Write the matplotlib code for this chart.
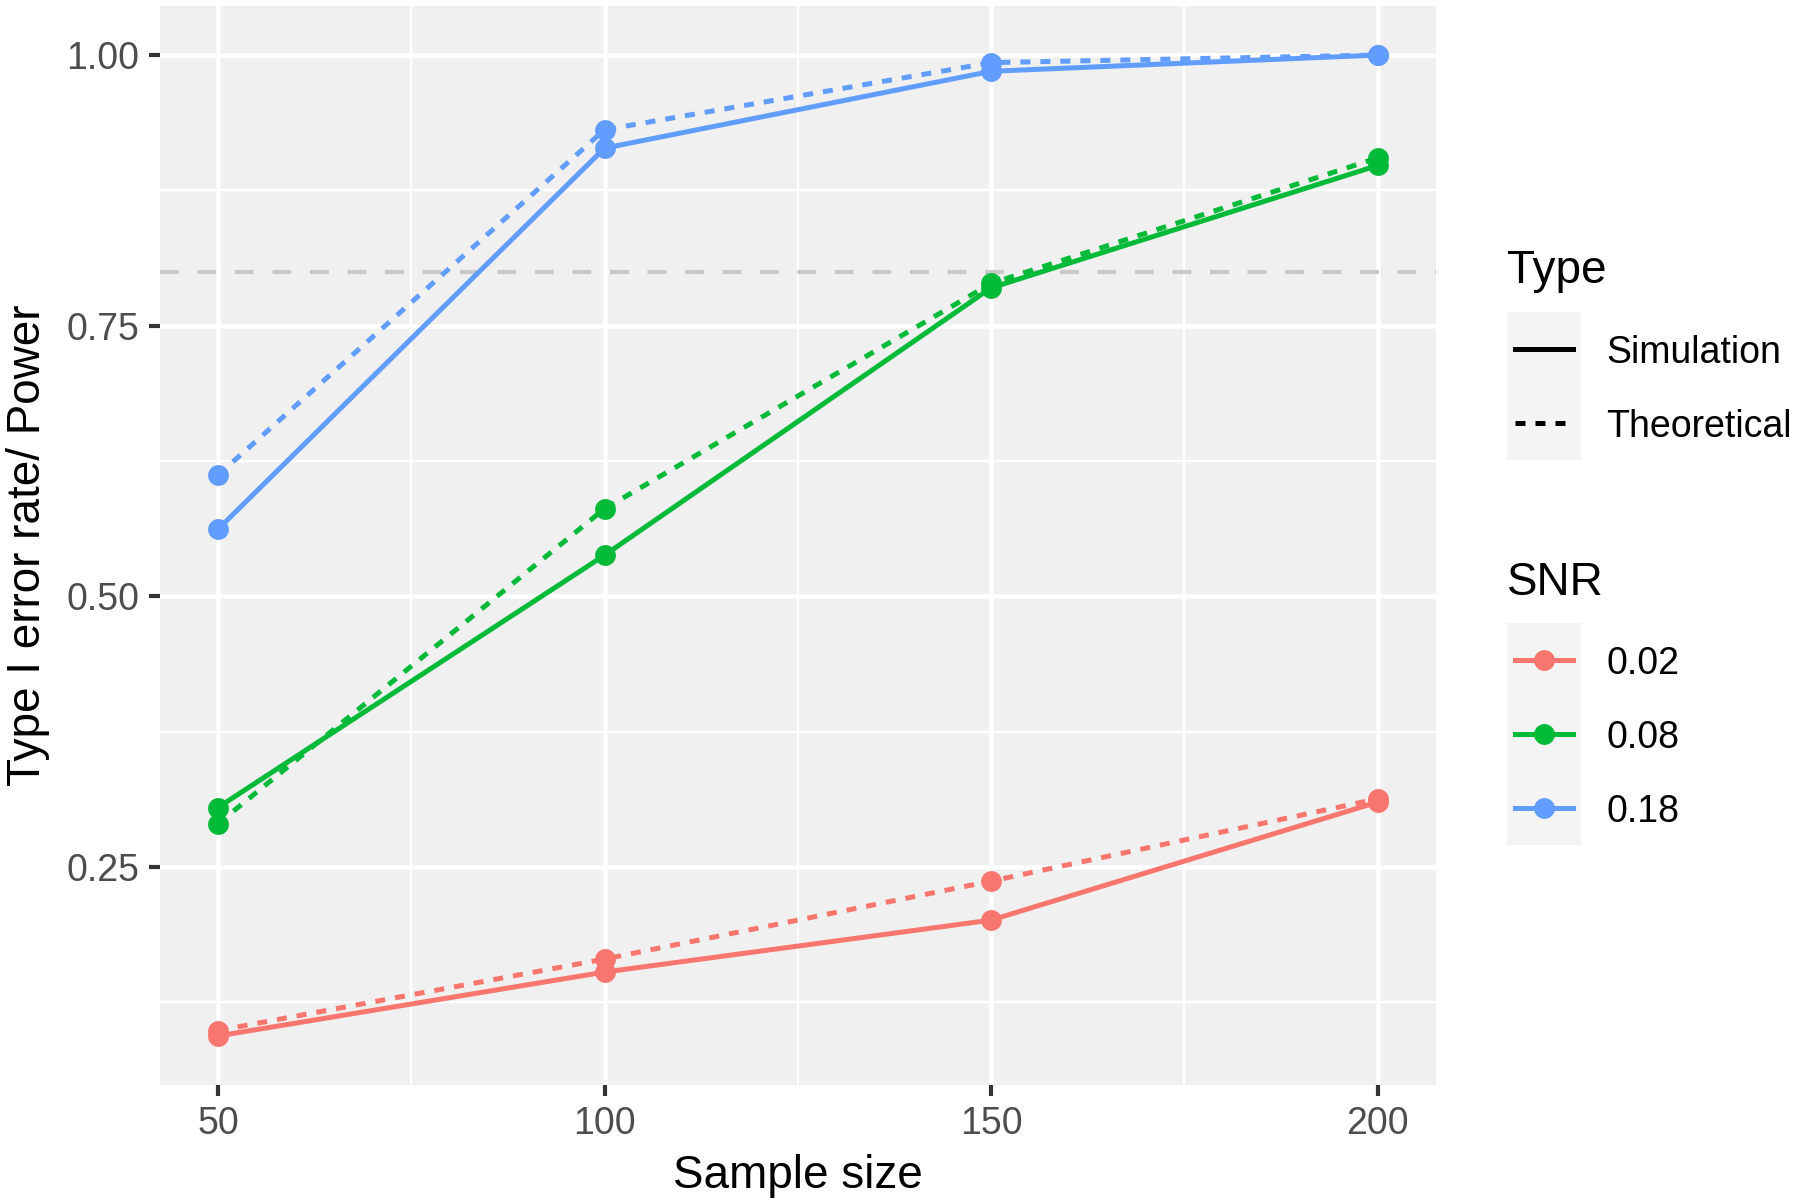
import matplotlib
matplotlib.use("Agg")
import matplotlib.pyplot as plt
from matplotlib.patches import Rectangle
from matplotlib.lines import Line2D

plt.rcParams['font.family'] = ['Liberation Sans', 'DejaVu Sans']

# ---- data ----
sample_size = [50, 100, 150, 200]
snr_levels = ["0.02", "0.08", "0.18"]
types = ["Simulation", "Theoretical"]
sim_002 = [0.094, 0.153, 0.201, 0.310]
theo_002 = [0.099, 0.165, 0.237, 0.313]
sim_008 = [0.305, 0.538, 0.785, 0.898]
theo_008 = [0.290, 0.581, 0.789, 0.905]
sim_018 = [0.562, 0.914, 0.985, 1.000]
theo_018 = [0.612, 0.931, 0.993, 1.000]
ref_power = 0.8
x_ticks = [50, 100, 150, 200]
y_ticks = [0.25, 0.50, 0.75, 1.00]
y_tick_labels = ["0.25", "0.50", "0.75", "1.00"]
x_label = "Sample size"
y_label = "Type I error rate/ Power"

colors = ["#F8766D", "#00BA38", "#619CFF"]
sim_series = [sim_002, sim_008, sim_018]
theo_series = [theo_002, theo_008, theo_018]

W, H, DPI = 1800, 1204, 300
fig = plt.figure(figsize=(W / DPI, H / DPI), dpi=DPI)
fig.patch.set_facecolor("white")

left, right, bottom, top = 160 / W, 1435.6 / W, (H - 1085) / H, (H - 6) / H
ax = fig.add_axes([left, bottom, right - left, top - bottom])
ax.set_facecolor("#F0F0F0")
for s in ax.spines.values():
    s.set_visible(False)

# ggplot-style expansion
xmin, xmax = min(sample_size), max(sample_size)
xr = xmax - xmin
ax.set_xlim(xmin - 0.05 * xr, xmax + 0.05 * xr)
allv = sim_002 + theo_002 + sim_008 + theo_008 + sim_018 + theo_018
ymin, ymax = min(allv), max(allv)
yr = ymax - ymin
ax.set_ylim(ymin - 0.05 * yr, ymax + 0.05 * yr)

ax.set_xticks(x_ticks)
ax.set_xticklabels([str(v) for v in x_ticks])
ax.set_yticks(y_ticks)
ax.set_yticklabels(y_tick_labels)
ax.set_xticks([75, 125, 175], minor=True)
ax.set_yticks([0.125, 0.375, 0.625, 0.875], minor=True)
ax.grid(which="major", color="white", linewidth=1.1)
ax.grid(which="minor", color="white", linewidth=0.55)
ax.set_axisbelow(True)
ax.tick_params(which="major", length=2.75, width=1.0, color="#333333",
               labelcolor="#4D4D4D", labelsize=9, pad=2.2)
ax.tick_params(which="minor", length=0)

ax.set_xlabel(x_label, fontsize=11, color="black", labelpad=3)
ax.set_ylabel(y_label, fontsize=11, color="black", labelpad=4)

ax.axhline(ref_power, color="#C8C8C8", linewidth=1.0, linestyle=(0, (4.5, 4.5)), zorder=1.5)

lw = 1.2
ms = 5
for c, sim, theo in zip(colors, sim_series, theo_series):
    ax.plot(sample_size, sim, color=c, linewidth=lw, solid_capstyle="butt", zorder=3)
    ax.plot(sample_size, theo, color=c, linewidth=lw, linestyle=(0, (2, 2)), zorder=3)
    ax.plot(sample_size, sim, linestyle="none", marker="o", markersize=ms,
            markerfacecolor=c, markeredgecolor=c, markeredgewidth=0, zorder=4)
    ax.plot(sample_size, theo, linestyle="none", marker="o", markersize=ms,
            markerfacecolor=c, markeredgecolor=c, markeredgewidth=0, zorder=4)

# ---- legends (drawn in figure pixel space) ----
lax = fig.add_axes([0, 0, 1, 1])
lax.set_xlim(0, W)
lax.set_ylim(H, 0)
lax.axis("off")

key_x0, key_w, key_h = 1507, 74, 74
txt_x = 1606

# Type legend
lax.text(key_x0, 271, "Type", fontsize=11, va="center", ha="left", color="black")
type_y0 = 312
for i, (t, ls) in enumerate(zip(types, ["-", (0, (2, 2))])):
    y0 = type_y0 + i * key_h
    lax.add_patch(Rectangle((key_x0, y0), key_w, key_h, facecolor="#F4F4F4", edgecolor="none"))
    lax.add_line(Line2D([key_x0 + 8, key_x0 + key_w - 8], [y0 + key_h / 2] * 2,
                        color="black", linewidth=1.2, linestyle=ls))
    lax.text(txt_x, y0 + key_h / 2 + 4, t, fontsize=9, va="center", ha="left", color="black")

# SNR legend
lax.text(key_x0, 583, "SNR", fontsize=11, va="center", ha="left", color="black")
snr_y0 = 623
for i, (lab, c) in enumerate(zip(snr_levels, colors)):
    y0 = snr_y0 + i * key_h
    lax.add_patch(Rectangle((key_x0, y0), key_w, key_h, facecolor="#F4F4F4", edgecolor="none"))
    lax.add_line(Line2D([key_x0 + 8, key_x0 + key_w - 8], [y0 + key_h / 2] * 2,
                        color=c, linewidth=1.2))
    lax.add_line(Line2D([key_x0 + key_w / 2], [y0 + key_h / 2], color=c, marker="o",
                        markersize=ms, markeredgewidth=0, linestyle="none"))
    lax.text(txt_x, y0 + key_h / 2 + 4, lab, fontsize=9, va="center", ha="left", color="black")

fig.savefig("out.png", dpi=DPI, facecolor="white")
